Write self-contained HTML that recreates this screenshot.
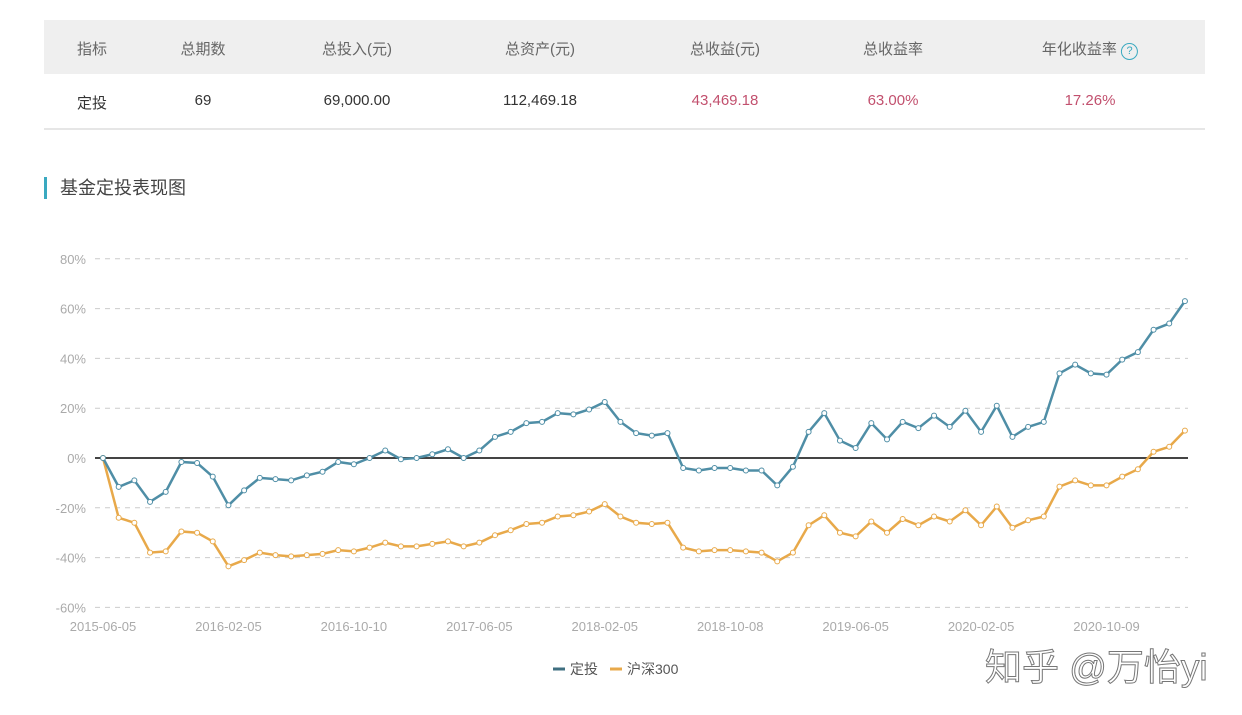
<!DOCTYPE html>
<html><head><meta charset="utf-8">
<style>
body{margin:0;width:1242px;height:715px;background:#fff;font-family:"Liberation Sans","Noto Sans CJK SC",sans-serif;position:relative;overflow:hidden}
.hdr{position:absolute;left:44px;top:20px;width:1161px;height:54px;background:#efefef}
.row{position:absolute;left:44px;top:74px;width:1161px;height:54px;border-bottom:2px solid #e6e6e6}
.c{position:absolute;transform:translateX(-50%);white-space:nowrap;font-size:15px}
.hdr .c{top:18px;color:#666}
.row .c{top:18px;color:#333}
.red{color:#c2506e!important}
.title{position:absolute;left:44px;top:177px;font-size:18px;color:#444;padding-left:13px;border-left:3px solid #3aa9c0;line-height:22px}
.wm{position:absolute;left:985px;top:637px;font-size:37px;color:#fff;-webkit-text-stroke:1px #777;white-space:nowrap}
</style></head><body>
<div class="hdr">
<span class="c" style="left:48px">指标</span>
<span class="c" style="left:159px">总期数</span>
<span class="c" style="left:313px">总投入(元)</span>
<span class="c" style="left:496px">总资产(元)</span>
<span class="c" style="left:681px">总收益(元)</span>
<span class="c" style="left:849px">总收益率</span>
<span class="c" style="left:1046px">年化收益率 <span style="display:inline-block;width:15px;height:15px;border:1.5px solid #3aa9c0;border-radius:50%;color:#3aa9c0;font-size:11px;line-height:15px;text-align:center">?</span></span>
</div>
<div class="row">
<span class="c" style="left:48px">定投</span>
<span class="c" style="left:159px">69</span>
<span class="c" style="left:313px">69,000.00</span>
<span class="c" style="left:496px">112,469.18</span>
<span class="c red" style="left:681px">43,469.18</span>
<span class="c red" style="left:849px">63.00%</span>
<span class="c red" style="left:1046px">17.26%</span>
</div>
<div class="title">基金定投表现图</div>
<svg id="chart" width="1242" height="715" style="position:absolute;left:0;top:0"></svg>
<div class="wm">知乎 @万怡yi</div>
<script>
const xLabels=["2015-06-05","2016-02-05","2016-10-10","2017-06-05","2018-02-05","2018-10-08","2019-06-05","2020-02-05","2020-10-09"];
const yTicks=[-60,-40,-20,0,20,40,60,80];
const fundValues=[0,-11.6,-9,-17.6,-13.6,-1.6,-2,-7.5,-19,-13,-8,-8.5,-9,-7,-5.5,-1.6,-2.5,0,3,-0.5,0,1.5,3.5,0,3,8.5,10.5,14,14.5,18,17.5,19.5,22.5,14.5,10,9,10,-4,-5,-4,-4,-5,-5,-11,-3.5,10.5,18,7,4,14,7.5,14.5,12,17,12.5,19,10.5,21,8.5,12.5,14.5,34,37.5,34,33.5,39.5,42.5,51.5,54,63];
const hs300Values=[0,-24,-26,-38,-37.5,-29.5,-30,-33.5,-43.5,-41,-38,-39,-39.5,-39,-38.5,-37,-37.5,-36,-34,-35.5,-35.5,-34.5,-33.5,-35.5,-34,-31,-29,-26.5,-26,-23.5,-23,-21.5,-18.5,-23.5,-26,-26.5,-26,-36,-37.5,-37,-37,-37.5,-38,-41.5,-38,-27,-23,-30,-31.5,-25.5,-30,-24.5,-27,-23.5,-25.5,-21,-27,-19.5,-28,-25,-23.5,-11.5,-9,-11,-11,-7.5,-4.5,2.5,4.5,11];
const svg=document.getElementById('chart');const NS='http://www.w3.org/2000/svg';
const X0=103,DX=15.68,Y0=458,PY=2.49;
const xs=i=>X0+i*DX, ys=v=>Y0-v*PY;
function mk(t,a){const e=document.createElementNS(NS,t);for(const k in a)e.setAttribute(k,a[k]);svg.appendChild(e);return e;}
yTicks.forEach(v=>{
 const l=mk('line',{x1:95,x2:1188,y1:ys(v),y2:ys(v),stroke:v===0?'#444':'#ccc','stroke-width':v===0?2:1,'stroke-dasharray':v===0?'':'5,5'});
 
 
 const t=mk('text',{x:86,y:ys(v)+5,'text-anchor':'end','font-size':13,fill:'#aaa'});t.textContent=v+'%';
 
 
});
xLabels.forEach((s,k)=>{
 const t=mk('text',{x:xs(k*8),y:631,'text-anchor':'middle','font-size':13,fill:'#aaa'});t.textContent=s;
 
 
});
function series(vals,color,name){
 const p=mk('polyline',{points:vals.map((v,i)=>xs(i)+','+ys(v)).join(' '),fill:'none',stroke:color,'stroke-width':2.5});
 
 
 vals.forEach((v,i)=>{const c=mk('circle',{cx:xs(i),cy:ys(v),r:2.5,fill:'#fff',stroke:color,'stroke-width':1});
 
 });
}
series(hs300Values,'#e8a94a','hs300');
series(fundValues,'#4f8ea6','fund');
[[553,'#3f6f80','定投','legend-fund'],[610,'#e8a94a','沪深300','legend-hs300']].forEach(a=>{
 const g=mk('g',{});
 
 
 const l=document.createElementNS(NS,'line');l.setAttribute('x1',a[0]);l.setAttribute('x2',a[0]+12);l.setAttribute('y1',669);l.setAttribute('y2',669);l.setAttribute('stroke',a[1]);l.setAttribute('stroke-width',3);g.appendChild(l);
 const t=document.createElementNS(NS,'text');t.setAttribute('x',a[0]+17);t.setAttribute('y',674);t.setAttribute('font-size',14);t.setAttribute('fill','#555');t.textContent=a[2];g.appendChild(t);
});
</script>
</body></html>
